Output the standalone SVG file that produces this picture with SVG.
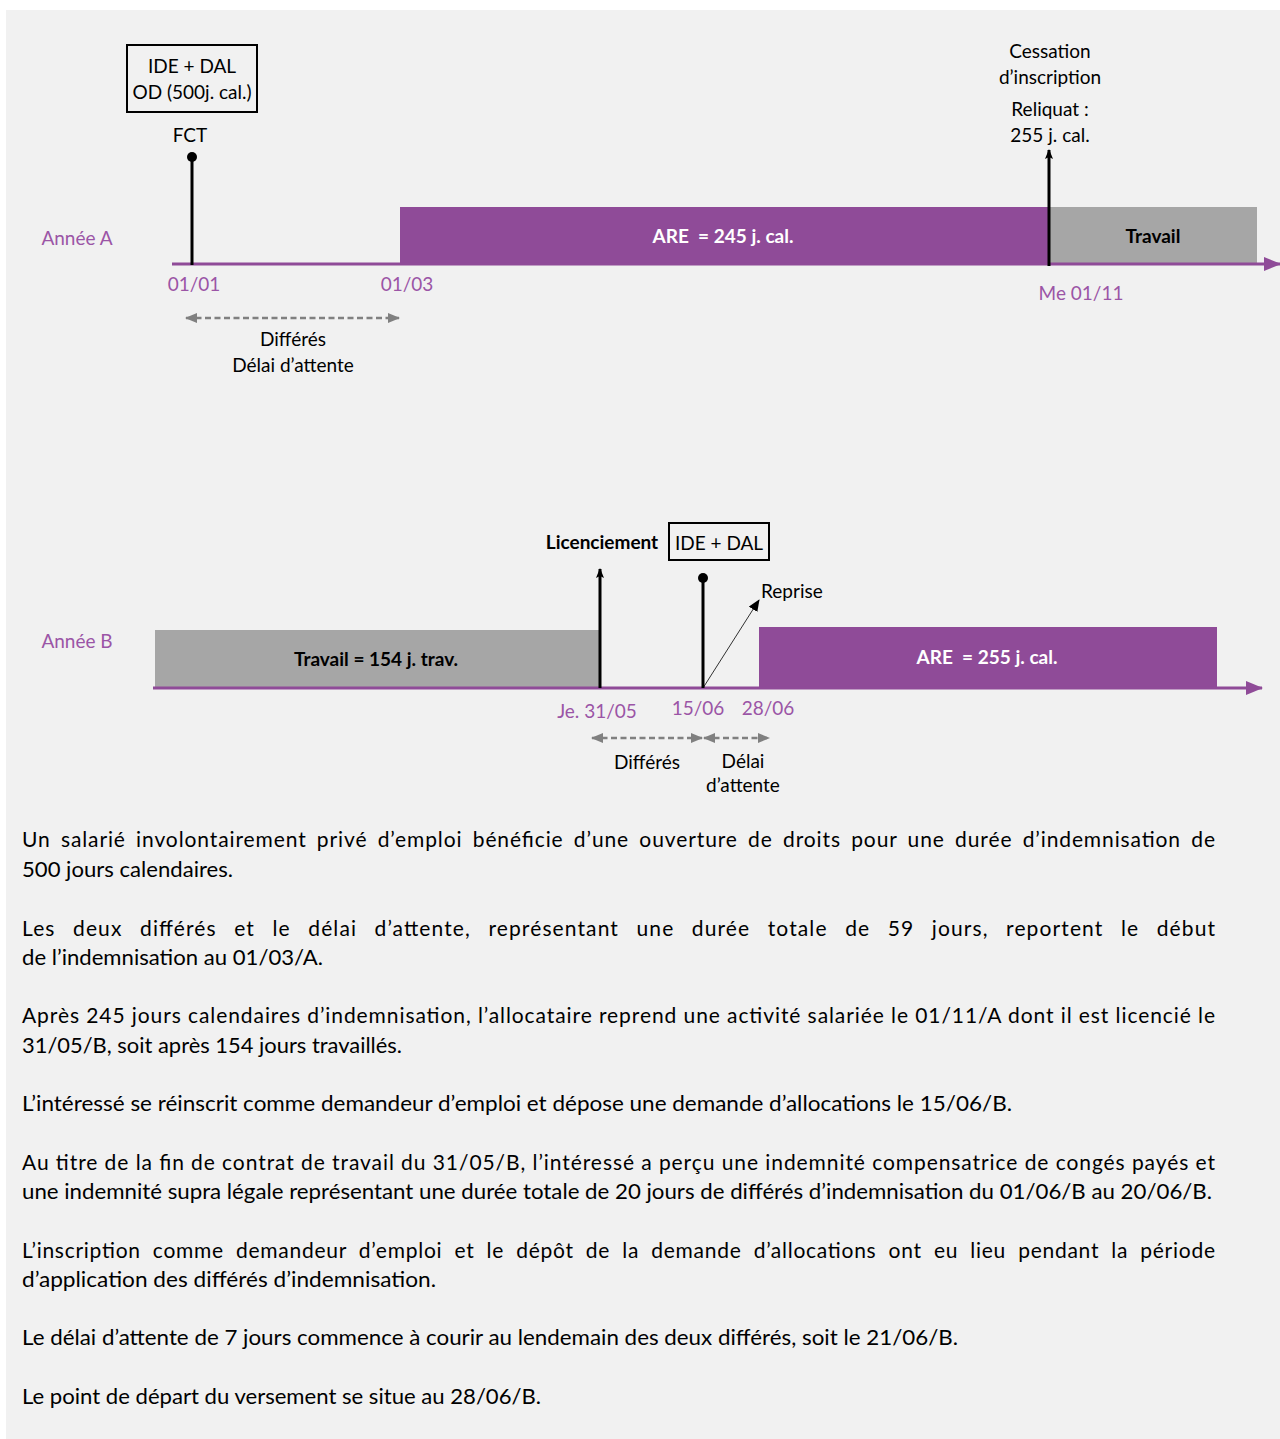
<svg xmlns="http://www.w3.org/2000/svg" width="1280" height="1439" viewBox="0 0 1280 1439">
<style>
.t{font-family:Lato,"Liberation Sans",sans-serif;font-size:19px;fill:#000;text-anchor:middle;white-space:pre}
.b{font-weight:bold}
.w{fill:#fff}
.p{fill:#9b55a6}
.para{font-family:Lato,"Liberation Sans",sans-serif;font-size:21px;fill:#000}
.ax{stroke:#8f4b98;stroke-width:3;fill:none}
.vl{stroke:#000;stroke-width:3;fill:none}
.ds{stroke:#808080;stroke-width:2.5;stroke-dasharray:6 3.5;fill:none}
.box{fill:none;stroke:#000;stroke-width:2}
</style>
<defs>
<marker id="ga" markerUnits="userSpaceOnUse" markerWidth="12" markerHeight="10" refX="11" refY="5" orient="auto-start-reverse" viewBox="0 0 12 10">
<path d="M0,0 L12,5 L0,10 Z" fill="#808080"/>
</marker>
<marker id="pa" markerUnits="userSpaceOnUse" markerWidth="17" markerHeight="14" refX="16" refY="7" orient="auto" viewBox="0 0 17 14">
<path d="M0,0 L17,7 L0,14 Z" fill="#8f4b98"/>
</marker>
<marker id="ba" markerUnits="userSpaceOnUse" markerWidth="10" markerHeight="10" refX="9" refY="5" orient="auto" viewBox="0 0 10 10">
<path d="M0,1 L10,5 L0,9 L2,5 Z" fill="#000"/>
</marker>
<marker id="ra" markerUnits="userSpaceOnUse" markerWidth="12" markerHeight="10" refX="11" refY="5" orient="auto" viewBox="0 0 12 10">
<path d="M0,0 L12,5 L0,10 Z" fill="#000"/>
</marker>
</defs>
<rect x="0" y="0" width="1280" height="1439" fill="#fff"/>
<rect x="6" y="10" width="1274" height="1429" fill="#f1f1f1"/>

<!-- Année A -->
<g id="yearA">
<text class="t p" x="77" y="245">Année A</text>
</g>
<g id="areA">
<rect x="400" y="207" width="649" height="58" fill="#8f4b98"/>
<text class="t b w" x="723" y="243">ARE  = 245 j. cal.</text>
</g>
<g id="travailA">
<rect x="1049" y="207" width="208" height="58" fill="#a6a6a6"/>
<text class="t b" x="1153" y="243">Travail</text>
</g>
<g id="boxA">
<rect class="box" x="127" y="45" width="130" height="67"/>
<text class="t" x="192" y="73">IDE + DAL</text>
<text class="t" x="192" y="99">OD (500j. cal.)</text>
</g>
<g id="fct">
<text class="t" x="190" y="142">FCT</text>
</g>
<g id="cessation">
<text class="t" x="1050" y="58">Cessation</text>
<text class="t" x="1050" y="84">d’inscription</text>
<text class="t" x="1050" y="116">Reliquat :</text>
<text class="t" x="1050" y="142">255 j. cal.</text>
</g>
<g id="datesA">
<text class="t p" x="194" y="291">01/01</text>
<text class="t p" x="407" y="291">01/03</text>
<text class="t p" x="1081" y="300">Me 01/11</text>
</g>
<g id="labelsA">
<text class="t" x="293" y="346">Différés</text>
<text class="t" x="293" y="372">Délai d’attente</text>
</g>

<!-- Année B -->
<g id="yearB">
<text class="t p" x="77" y="648">Année B</text>
</g>
<g id="travailB">
<rect x="155" y="630" width="445" height="58" fill="#a6a6a6"/>
<text class="t b" x="376" y="666">Travail = 154 j. trav.</text>
</g>
<g id="areB">
<rect x="759" y="627" width="458" height="61" fill="#8f4b98"/>
<text class="t b w" x="987" y="664">ARE  = 255 j. cal.</text>
</g>
<g id="licenciement">
<text class="t b" x="602" y="549">Licenciement</text>
</g>
<g id="boxB">
<rect class="box" x="669" y="523" width="100" height="37"/>
<text class="t" x="719" y="550">IDE + DAL</text>
</g>
<g id="reprise">
<text class="t" x="761" y="598" style="text-anchor:start">Reprise</text>
</g>
<g id="datesB">
<text class="t p" x="597" y="718">Je. 31/05</text>
<text class="t p" x="698" y="715">15/06</text>
<text class="t p" x="768" y="715">28/06</text>
</g>
<g id="labelsB">
<text class="t" x="647" y="769">Différés</text>
<text class="t" x="743" y="768">Délai</text>
<text class="t" x="743" y="792">d’attente</text>
</g>

<g id="connectors">
<line class="ax" x1="172" y1="264" x2="1280" y2="264" marker-end="url(#pa)"/>
<line class="vl" x1="192" y1="265" x2="192" y2="157"/>
<circle cx="192" cy="157" r="5" fill="#000"/>
<line class="vl" x1="1049" y1="266" x2="1049" y2="150" marker-end="url(#ba)"/>
<line class="ds" x1="186" y1="318" x2="399" y2="318" marker-start="url(#ga)" marker-end="url(#ga)"/>

<line class="ax" x1="153" y1="688" x2="1262" y2="688" marker-end="url(#pa)"/>
<line class="vl" x1="600" y1="688" x2="600" y2="569" marker-end="url(#ba)"/>
<line class="vl" x1="703" y1="688" x2="703" y2="578"/>
<circle cx="703" cy="578" r="5" fill="#000"/>
<line x1="703" y1="688" x2="759" y2="600" stroke="#000" stroke-width="0.8" marker-end="url(#ra)"/>
<line class="ds" x1="592" y1="738" x2="702" y2="738" marker-start="url(#ga)" marker-end="url(#ga)"/>
<line class="ds" x1="704" y1="738" x2="769" y2="738" marker-start="url(#ga)" marker-end="url(#ga)"/>
</g>

<g id="paragraphs">
<text class="para" x="22" y="847" textLength="1193" lengthAdjust="spacing" word-spacing="4">Un salarié involontairement privé d’emploi bénéficie d’une ouverture de droits pour une durée d’indemnisation de</text>
<text class="para" x="22" y="877" textLength="211" lengthAdjust="spacingAndGlyphs">500 jours calendaires.</text>
<text class="para" x="22" y="936" textLength="1193" lengthAdjust="spacing" word-spacing="11">Les deux différés et le délai d’attente, représentant une durée totale de 59 jours, reportent le début</text>
<text class="para" x="22" y="965" textLength="301" lengthAdjust="spacingAndGlyphs">de l’indemnisation au 01/03/A.</text>
<text class="para" x="22" y="1023" textLength="1193" lengthAdjust="spacing">Après 245 jours calendaires d’indemnisation, l’allocataire reprend une activité salariée le 01/11/A dont il est licencié le</text>
<text class="para" x="22" y="1053" textLength="380" lengthAdjust="spacingAndGlyphs">31/05/B, soit après 154 jours travaillés.</text>
<text class="para" x="22" y="1111" textLength="990" lengthAdjust="spacingAndGlyphs">L’intéressé se réinscrit comme demandeur d’emploi et dépose une demande d’allocations le 15/06/B.</text>
<text class="para" x="22" y="1170" textLength="1193" lengthAdjust="spacing">Au titre de la fin de contrat de travail du 31/05/B, l’intéressé a perçu une indemnité compensatrice de congés payés et</text>
<text class="para" x="22" y="1199" textLength="1190" lengthAdjust="spacingAndGlyphs">une indemnité supra légale représentant une durée totale de 20 jours de différés d’indemnisation du 01/06/B au 20/06/B.</text>
<text class="para" x="22" y="1258" textLength="1193" lengthAdjust="spacing" word-spacing="6">L’inscription comme demandeur d’emploi et le dépôt de la demande d’allocations ont eu lieu pendant la période</text>
<text class="para" x="22" y="1287" textLength="414" lengthAdjust="spacingAndGlyphs">d’application des différés d’indemnisation.</text>
<text class="para" x="22" y="1345" textLength="936" lengthAdjust="spacingAndGlyphs">Le délai d’attente de 7 jours commence à courir au lendemain des deux différés, soit le 21/06/B.</text>
<text class="para" x="22" y="1404" textLength="519" lengthAdjust="spacingAndGlyphs">Le point de départ du versement se situe au 28/06/B.</text>
</g>
</svg>
